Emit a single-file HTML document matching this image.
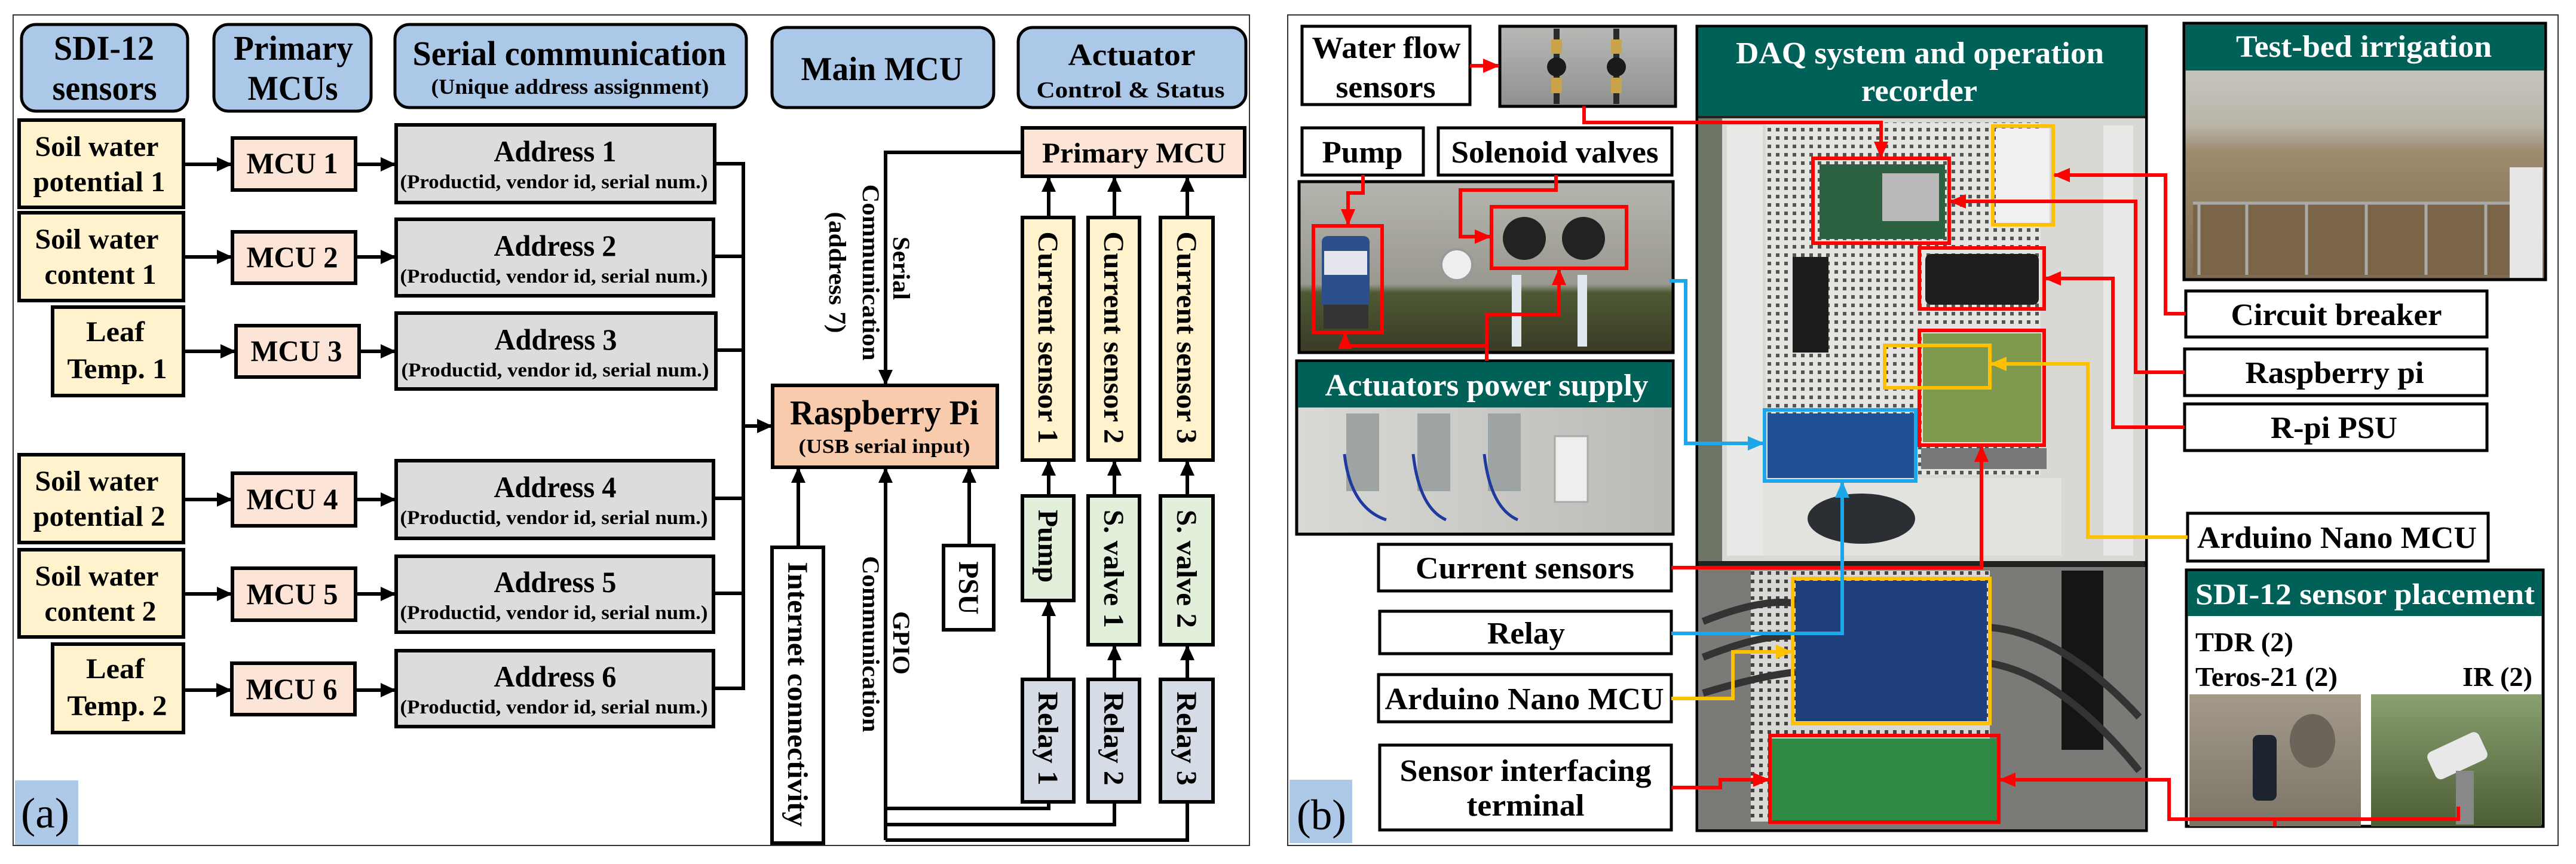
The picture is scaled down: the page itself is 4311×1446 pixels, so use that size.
<!DOCTYPE html>
<html><head><meta charset="utf-8"><style>
html,body{margin:0;padding:0;background:#fff;}
svg{display:block;}
text{font-family:"Liberation Serif",serif;font-weight:bold;}
</style></head><body>
<svg width="4311" height="1446" viewBox="0 0 4311 1446" xmlns="http://www.w3.org/2000/svg">
<defs>
<marker id="ak" markerWidth="28" markerHeight="28" refX="24" refY="14" orient="auto" markerUnits="userSpaceOnUse"><path d="M0,2 L26,14 L0,26 z" fill="#000"/></marker>
<marker id="ar" markerWidth="30" markerHeight="30" refX="26" refY="15" orient="auto" markerUnits="userSpaceOnUse"><path d="M0,3 L28,15 L0,27 z" fill="#f00"/></marker>
<marker id="ab" markerWidth="30" markerHeight="30" refX="26" refY="15" orient="auto" markerUnits="userSpaceOnUse"><path d="M0,3 L28,15 L0,27 z" fill="#1ea7e8"/></marker>
<marker id="ay" markerWidth="30" markerHeight="30" refX="26" refY="15" orient="auto" markerUnits="userSpaceOnUse"><path d="M0,3 L28,15 L0,27 z" fill="#ffc000"/></marker>
<pattern id="perf" width="14" height="14" patternUnits="userSpaceOnUse"><rect width="14" height="14" fill="#e4e4e0"/><rect x="4" y="4" width="6" height="6" fill="#555"/></pattern>
<pattern id="perf2" width="14" height="14" patternUnits="userSpaceOnUse"><rect width="14" height="14" fill="#d8d8d4"/><rect x="4" y="4" width="6" height="6" fill="#444"/></pattern>
<linearGradient id="gflow" x1="0" y1="0" x2="0" y2="1"><stop offset="0" stop-color="#b7b9b6"/><stop offset="1" stop-color="#8e918e"/></linearGradient>
<linearGradient id="gpump" x1="0" y1="0" x2="0" y2="1"><stop offset="0" stop-color="#b5b4ae"/><stop offset="0.6" stop-color="#9a9990"/><stop offset="0.65" stop-color="#4d5a33"/><stop offset="1" stop-color="#3b3a26"/></linearGradient>
<linearGradient id="gps" x1="0" y1="0" x2="1" y2="0"><stop offset="0" stop-color="#d9d9d6"/><stop offset="1" stop-color="#b9b9b6"/></linearGradient>
<linearGradient id="gtb" x1="0" y1="0" x2="0" y2="1"><stop offset="0" stop-color="#cfd2d2"/><stop offset="0.4" stop-color="#b9b4a8"/><stop offset="0.5" stop-color="#9e8b6e"/><stop offset="1" stop-color="#7d6a52"/></linearGradient>
<linearGradient id="gsl" x1="0" y1="0" x2="0" y2="1"><stop offset="0" stop-color="#a39a8a"/><stop offset="1" stop-color="#7c7466"/></linearGradient>
<linearGradient id="gsr" x1="0" y1="0" x2="0" y2="1"><stop offset="0" stop-color="#8aa070"/><stop offset="1" stop-color="#4c5e35"/></linearGradient>
</defs>

<!-- ============ PANEL A ============ -->
<rect x="22" y="25" width="2069" height="1390" fill="#fff" stroke="#333" stroke-width="2"/>
<rect x="25" y="1306" width="106" height="108" fill="#aec8e8"/>
<text x="35" y="1385" font-weight="normal" style="font-weight:normal" font-size="72" textLength="81" lengthAdjust="spacingAndGlyphs">(a)</text>

<!-- headers -->
<g fill="#abc8e8" stroke="#000" stroke-width="5">
<rect x="36" y="41" width="278" height="145" rx="24"/>
<rect x="358" y="41" width="263" height="145" rx="24"/>
<rect x="661" y="41" width="588" height="139" rx="24"/>
<rect x="1292" y="46" width="371" height="134" rx="24"/>
<rect x="1704" y="46" width="381" height="134" rx="24"/>
</g>
<g font-size="58" text-anchor="middle">
<text x="174" y="100" textLength="168" lengthAdjust="spacingAndGlyphs">SDI-12</text>
<text x="175" y="167" textLength="175" lengthAdjust="spacingAndGlyphs">sensors</text>
<text x="491" y="100" textLength="200" lengthAdjust="spacingAndGlyphs">Primary</text>
<text x="490" y="167" textLength="151" lengthAdjust="spacingAndGlyphs">MCUs</text>
<text x="953" y="109" textLength="525" lengthAdjust="spacingAndGlyphs">Serial communication</text>
<text x="1476" y="134" font-size="56" textLength="271" lengthAdjust="spacingAndGlyphs">Main MCU</text>
<text x="1894" y="109" font-size="52" textLength="213" lengthAdjust="spacingAndGlyphs">Actuator</text>
</g>
<text x="954" y="157" font-size="36" text-anchor="middle" textLength="465" lengthAdjust="spacingAndGlyphs">(Unique address assignment)</text>
<text x="1892" y="163" font-size="38" text-anchor="middle" textLength="315" lengthAdjust="spacingAndGlyphs">Control &amp; Status</text>

<!-- sensor boxes -->
<g fill="#fff2cc" stroke="#000" stroke-width="6">
<rect x="32" y="201" width="275" height="146"/>
<rect x="32" y="356" width="275" height="147"/>
<rect x="88" y="514" width="219" height="148"/>
<rect x="32" y="761" width="275" height="147"/>
<rect x="32" y="920" width="275" height="146"/>
<rect x="88" y="1078" width="219" height="148"/>
</g>
<g font-size="48" text-anchor="middle">
<text x="162" y="261" textLength="207" lengthAdjust="spacingAndGlyphs">Soil water</text>
<text x="166" y="320" textLength="221" lengthAdjust="spacingAndGlyphs">potential 1</text>
<text x="162" y="416" textLength="207" lengthAdjust="spacingAndGlyphs">Soil water</text>
<text x="168" y="475" textLength="187" lengthAdjust="spacingAndGlyphs">content 1</text>
<text x="193" y="571" textLength="98" lengthAdjust="spacingAndGlyphs">Leaf</text>
<text x="196" y="633" textLength="167" lengthAdjust="spacingAndGlyphs">Temp. 1</text>
<text x="162" y="821" textLength="207" lengthAdjust="spacingAndGlyphs">Soil water</text>
<text x="166" y="880" textLength="221" lengthAdjust="spacingAndGlyphs">potential 2</text>
<text x="162" y="980" textLength="207" lengthAdjust="spacingAndGlyphs">Soil water</text>
<text x="168" y="1039" textLength="187" lengthAdjust="spacingAndGlyphs">content 2</text>
<text x="193" y="1135" textLength="98" lengthAdjust="spacingAndGlyphs">Leaf</text>
<text x="196" y="1197" textLength="167" lengthAdjust="spacingAndGlyphs">Temp. 2</text>
</g>

<!-- MCU boxes -->
<g fill="#fce4d6" stroke="#000" stroke-width="6">
<rect x="389" y="231" width="206" height="87"/>
<rect x="389" y="388" width="206" height="86"/>
<rect x="395" y="545" width="206" height="86"/>
<rect x="389" y="792" width="206" height="88"/>
<rect x="389" y="951" width="206" height="87"/>
<rect x="388" y="1110" width="206" height="86"/>
</g>
<g font-size="50" text-anchor="middle">
<text x="489" y="290" textLength="153" lengthAdjust="spacingAndGlyphs">MCU 1</text>
<text x="489" y="447" textLength="153" lengthAdjust="spacingAndGlyphs">MCU 2</text>
<text x="496" y="604" textLength="153" lengthAdjust="spacingAndGlyphs">MCU 3</text>
<text x="489" y="852" textLength="153" lengthAdjust="spacingAndGlyphs">MCU 4</text>
<text x="489" y="1011" textLength="153" lengthAdjust="spacingAndGlyphs">MCU 5</text>
<text x="488" y="1170" textLength="153" lengthAdjust="spacingAndGlyphs">MCU 6</text>
</g>

<!-- Address boxes -->
<g fill="#dcdcdc" stroke="#000" stroke-width="6">
<rect x="663" y="209" width="533" height="130"/>
<rect x="663" y="367" width="531" height="128"/>
<rect x="663" y="524" width="535" height="127"/>
<rect x="663" y="771" width="531" height="130"/>
<rect x="663" y="931" width="531" height="127"/>
<rect x="663" y="1089" width="531" height="127"/>
</g>
<g text-anchor="middle">
<g font-size="50">
<text x="929" y="270" textLength="205" lengthAdjust="spacingAndGlyphs">Address 1</text>
<text x="929" y="428" textLength="205" lengthAdjust="spacingAndGlyphs">Address 2</text>
<text x="930" y="585" textLength="205" lengthAdjust="spacingAndGlyphs">Address 3</text>
<text x="929" y="832" textLength="205" lengthAdjust="spacingAndGlyphs">Address 4</text>
<text x="929" y="991" textLength="205" lengthAdjust="spacingAndGlyphs">Address 5</text>
<text x="929" y="1149" textLength="205" lengthAdjust="spacingAndGlyphs">Address 6</text>
</g>
<g font-size="33">
<text x="927" y="315" textLength="515" lengthAdjust="spacingAndGlyphs">(Productid, vendor id, serial num.)</text>
<text x="927" y="473" textLength="515" lengthAdjust="spacingAndGlyphs">(Productid, vendor id, serial num.)</text>
<text x="929" y="630" textLength="515" lengthAdjust="spacingAndGlyphs">(Productid, vendor id, serial num.)</text>
<text x="927" y="877" textLength="515" lengthAdjust="spacingAndGlyphs">(Productid, vendor id, serial num.)</text>
<text x="927" y="1036" textLength="515" lengthAdjust="spacingAndGlyphs">(Productid, vendor id, serial num.)</text>
<text x="927" y="1194" textLength="515" lengthAdjust="spacingAndGlyphs">(Productid, vendor id, serial num.)</text>
</g>
</g>

<!-- left arrows -->
<g stroke="#000" stroke-width="6" fill="none" marker-end="url(#ak)">
<line x1="307" y1="275" x2="387" y2="275"/>
<line x1="307" y1="430" x2="387" y2="430"/>
<line x1="307" y1="588" x2="393" y2="588"/>
<line x1="307" y1="836" x2="387" y2="836"/>
<line x1="307" y1="994" x2="387" y2="994"/>
<line x1="307" y1="1155" x2="386" y2="1155"/>
<line x1="595" y1="275" x2="661" y2="275"/>
<line x1="595" y1="430" x2="661" y2="430"/>
<line x1="601" y1="588" x2="661" y2="588"/>
<line x1="595" y1="836" x2="661" y2="836"/>
<line x1="595" y1="994" x2="661" y2="994"/>
<line x1="594" y1="1155" x2="661" y2="1155"/>
</g>
<g stroke="#000" stroke-width="6" fill="none">
<path d="M1196,274 H1244 M1194,429 H1244 M1198,586 H1244 M1194,834 H1244 M1194,993 H1244 M1194,1152 H1244 M1244,271 V1155"/>
<line x1="1244" y1="713" x2="1291" y2="713" marker-end="url(#ak)"/>
</g>

<!-- Raspberry Pi -->
<rect x="1293" y="645" width="376" height="137" fill="#f8cbad" stroke="#000" stroke-width="6"/>
<text x="1480" y="710" font-size="58" text-anchor="middle" textLength="316" lengthAdjust="spacingAndGlyphs">Raspberry Pi</text>
<text x="1480" y="758" font-size="34" text-anchor="middle" textLength="287" lengthAdjust="spacingAndGlyphs">(USB serial input)</text>

<!-- Primary MCU -->
<rect x="1711" y="214" width="372" height="81" fill="#fce4d6" stroke="#000" stroke-width="6"/>
<text x="1898" y="272" font-size="48" text-anchor="middle" textLength="308" lengthAdjust="spacingAndGlyphs">Primary MCU</text>

<!-- current sensors, pumps, relays -->
<g stroke="#000" stroke-width="6">
<g fill="#fff2cc">
<rect x="1711" y="364" width="86" height="406"/>
<rect x="1821" y="364" width="86" height="406"/>
<rect x="1942" y="364" width="88" height="406"/>
</g>
<g fill="#e2efda">
<rect x="1711" y="830" width="86" height="175"/>
<rect x="1821" y="830" width="86" height="249"/>
<rect x="1942" y="830" width="88" height="249"/>
</g>
<g fill="#d6dce5">
<rect x="1711" y="1137" width="86" height="205"/>
<rect x="1821" y="1137" width="86" height="205"/>
<rect x="1942" y="1137" width="88" height="205"/>
</g>
<rect x="1292" y="916" width="86" height="495" fill="#fff"/>
<rect x="1579" y="913" width="84" height="141" fill="#fff"/>
</g>
<g font-size="48" text-anchor="middle">
<text transform="translate(1754,565) rotate(90)" dy="16" textLength="355" lengthAdjust="spacingAndGlyphs">Current sensor 1</text>
<text transform="translate(1864,565) rotate(90)" dy="16" textLength="355" lengthAdjust="spacingAndGlyphs">Current sensor 2</text>
<text transform="translate(1986,565) rotate(90)" dy="16" textLength="355" lengthAdjust="spacingAndGlyphs">Current sensor 3</text>
<text transform="translate(1754,914) rotate(90)" dy="16" textLength="122" lengthAdjust="spacingAndGlyphs">Pump</text>
<text transform="translate(1864,952) rotate(90)" dy="16" textLength="198" lengthAdjust="spacingAndGlyphs">S. valve 1</text>
<text transform="translate(1986,952) rotate(90)" dy="16" textLength="198" lengthAdjust="spacingAndGlyphs">S. valve 2</text>
<text transform="translate(1754,1236) rotate(90)" dy="16" textLength="157" lengthAdjust="spacingAndGlyphs">Relay 1</text>
<text transform="translate(1864,1236) rotate(90)" dy="16" textLength="157" lengthAdjust="spacingAndGlyphs">Relay 2</text>
<text transform="translate(1986,1236) rotate(90)" dy="16" textLength="157" lengthAdjust="spacingAndGlyphs">Relay 3</text>
<text transform="translate(1335,1162) rotate(90)" dy="16" textLength="443" lengthAdjust="spacingAndGlyphs">Internet connectivity</text>
<text transform="translate(1621,984) rotate(90)" dy="16" textLength="89" lengthAdjust="spacingAndGlyphs">PSU</text>
</g>
<g font-size="40" text-anchor="middle">
<text transform="translate(1509,449) rotate(90)" dy="14" textLength="106" lengthAdjust="spacingAndGlyphs">Serial</text>
<text transform="translate(1458,456) rotate(90)" dy="14" textLength="295" lengthAdjust="spacingAndGlyphs">Communication</text>
<text transform="translate(1402,456) rotate(90)" dy="14" textLength="203" lengthAdjust="spacingAndGlyphs">(address 7)</text>
<text transform="translate(1509,1076) rotate(90)" dy="14" textLength="106" lengthAdjust="spacingAndGlyphs">GPIO</text>
<text transform="translate(1458,1078) rotate(90)" dy="14" textLength="295" lengthAdjust="spacingAndGlyphs">Communication</text>
</g>

<!-- actuator connectors -->
<g stroke="#000" stroke-width="6" fill="none">
<g marker-end="url(#ak)">
<line x1="1755" y1="364" x2="1755" y2="297"/>
<line x1="1865" y1="364" x2="1865" y2="297"/>
<line x1="1987" y1="364" x2="1987" y2="297"/>
<line x1="1755" y1="830" x2="1755" y2="772"/>
<line x1="1865" y1="830" x2="1865" y2="772"/>
<line x1="1987" y1="830" x2="1987" y2="772"/>
<line x1="1755" y1="1137" x2="1755" y2="1007"/>
<line x1="1865" y1="1137" x2="1865" y2="1081"/>
<line x1="1987" y1="1137" x2="1987" y2="1081"/>
<line x1="1336" y1="916" x2="1336" y2="784"/>
<line x1="1622" y1="913" x2="1622" y2="784"/>
<line x1="1482" y1="1406" x2="1482" y2="784"/>
<polyline points="1711,255 1482,255 1482,643"/>
</g>
<polyline points="1755,1342 1755,1353 1482,1353"/>
<polyline points="1865,1342 1865,1380 1482,1380"/>
<polyline points="1987,1342 1987,1406 1482,1406"/>
</g>

<!-- ============ PANEL B ============ -->
<rect x="2155" y="25" width="2126" height="1390" fill="#fff" stroke="#333" stroke-width="2"/>
<rect x="2158" y="1305" width="105" height="106" fill="#aec8e8"/>
<text x="2170" y="1388" style="font-weight:normal" font-size="72" textLength="83" lengthAdjust="spacingAndGlyphs">(b)</text>

<!-- label boxes -->
<g fill="#fff" stroke="#000" stroke-width="5">
<rect x="2179" y="44" width="281" height="131"/>
<rect x="2179" y="214" width="203" height="79"/>
<rect x="2407" y="214" width="391" height="79"/>
<rect x="2307" y="911" width="490" height="78"/>
<rect x="2309" y="1023" width="488" height="71"/>
<rect x="2307" y="1129" width="490" height="79"/>
<rect x="2309" y="1247" width="488" height="142"/>
<rect x="3658" y="487" width="504" height="77"/>
<rect x="3656" y="584" width="506" height="78"/>
<rect x="3656" y="676" width="506" height="78"/>
<rect x="3661" y="859" width="503" height="80"/>
</g>
<g font-size="52" text-anchor="middle">
<text x="2320" y="97" textLength="249" lengthAdjust="spacingAndGlyphs">Water flow</text>
<text x="2319" y="163" textLength="167" lengthAdjust="spacingAndGlyphs">sensors</text>
<text x="2280" y="272" textLength="135" lengthAdjust="spacingAndGlyphs">Pump</text>
<text x="2602" y="272" textLength="347" lengthAdjust="spacingAndGlyphs">Solenoid valves</text>
<text x="2552" y="968" textLength="366" lengthAdjust="spacingAndGlyphs">Current sensors</text>
<text x="2554" y="1077" textLength="130" lengthAdjust="spacingAndGlyphs">Relay</text>
<text x="2551" y="1187" textLength="467" lengthAdjust="spacingAndGlyphs">Arduino Nano MCU</text>
<text x="2553" y="1307" textLength="421" lengthAdjust="spacingAndGlyphs">Sensor interfacing</text>
<text x="2553" y="1365" textLength="197" lengthAdjust="spacingAndGlyphs">terminal</text>
<text x="3910" y="544" textLength="353" lengthAdjust="spacingAndGlyphs">Circuit breaker</text>
<text x="3907" y="641" textLength="299" lengthAdjust="spacingAndGlyphs">Raspberry pi</text>
<text x="3906" y="733" textLength="212" lengthAdjust="spacingAndGlyphs">R-pi PSU</text>
<text x="3911" y="917" textLength="468" lengthAdjust="spacingAndGlyphs">Arduino Nano MCU</text>
</g>

<!-- flow photo -->
<rect x="2510" y="44" width="294" height="134" fill="url(#gflow)" stroke="#000" stroke-width="5"/>
<g fill="#2a2a2a"><rect x="2600" y="48" width="10" height="126"/><rect x="2700" y="48" width="10" height="126"/></g>
<g fill="#c9a24a"><rect x="2596" y="66" width="18" height="24"/><rect x="2696" y="66" width="18" height="24"/><rect x="2596" y="130" width="18" height="26"/><rect x="2696" y="130" width="18" height="26"/></g>
<g fill="#1a1a1a"><circle cx="2605" cy="112" r="16"/><circle cx="2705" cy="112" r="16"/></g>

<!-- pump photo -->
<rect x="2174" y="304" width="626" height="286" fill="url(#gpump)" stroke="#000" stroke-width="5"/>
<rect x="2212" y="395" width="80" height="120" rx="10" fill="#2c4f8c"/>
<rect x="2216" y="420" width="72" height="40" fill="#e6e6ee"/>
<rect x="2215" y="510" width="75" height="40" fill="#333"/>
<circle cx="2438" cy="443" r="26" fill="#eee" stroke="#999" stroke-width="4"/>
<g fill="#222"><circle cx="2551" cy="399" r="36"/><circle cx="2650" cy="399" r="36"/></g>
<g fill="#dfe7ef"><rect x="2530" y="460" width="16" height="120"/><rect x="2640" y="460" width="16" height="120"/></g>

<!-- actuators power supply -->
<rect x="2170" y="604" width="630" height="290" fill="url(#gps)" stroke="#000" stroke-width="5"/>
<rect x="2172" y="606" width="626" height="76" fill="#006158"/>
<text x="2488" y="662" font-size="52" fill="#fff" text-anchor="middle" textLength="541" lengthAdjust="spacingAndGlyphs">Actuators power supply</text>
<g fill="#9ea3a3"><rect x="2253" y="692" width="55" height="130"/><rect x="2372" y="692" width="55" height="130"/><rect x="2490" y="692" width="55" height="130"/></g>
<rect x="2602" y="730" width="55" height="110" fill="#eee" stroke="#aaa" stroke-width="3"/>
<g stroke="#1f3a9e" stroke-width="5" fill="none"><path d="M2250,760 Q2260,850 2320,870 M2365,760 Q2375,850 2420,870 M2484,760 Q2494,850 2540,870"/></g>

<!-- DAQ -->
<rect x="2840" y="44" width="752" height="1346" fill="#222" stroke="#000" stroke-width="5"/>
<rect x="2842" y="46" width="748" height="148" fill="#006158"/>
<text x="3213" y="106" font-size="52" fill="#fff" text-anchor="middle" textLength="616" lengthAdjust="spacingAndGlyphs">DAQ system and operation</text>
<text x="3212" y="169" font-size="52" fill="#fff" text-anchor="middle" textLength="194" lengthAdjust="spacingAndGlyphs">recorder</text>
<rect x="2842" y="198" width="748" height="741" fill="#d8d8d4"/>
<rect x="2842" y="198" width="40" height="741" fill="#6d7566"/>
<rect x="2890" y="210" width="60" height="720" fill="#e8e8e6"/>
<rect x="3520" y="210" width="50" height="720" fill="#e8e8e6"/>
<rect x="2955" y="205" width="460" height="590" fill="url(#perf)"/>
<rect x="2950" y="800" width="500" height="130" fill="#e2e2de"/>
<ellipse cx="3115" cy="868" rx="90" ry="42" fill="#2b2e33"/>
<rect x="3045" y="275" width="210" height="125" fill="#2b6040"/>
<rect x="3150" y="290" width="95" height="80" fill="#b9b9b9"/>
<rect x="3000" y="430" width="60" height="160" fill="#1c1c1c"/>
<rect x="3222" y="425" width="190" height="85" rx="10" fill="#1e1e1e"/>
<rect x="3218" y="558" width="198" height="182" fill="#7f9a4f"/>
<rect x="2958" y="692" width="245" height="108" fill="#1f4f94"/>
<rect x="3340" y="215" width="90" height="158" fill="#f0f0f0"/>
<rect x="3215" y="750" width="210" height="35" fill="#777"/>
<rect x="2842" y="949" width="748" height="439" fill="#7a7a76"/>
<rect x="2930" y="955" width="400" height="420" fill="url(#perf2)"/>
<rect x="3005" y="972" width="320" height="235" fill="#1e3f7a"/>
<rect x="2965" y="1236" width="378" height="140" fill="#2f8a43"/>
<rect x="3450" y="955" width="70" height="300" fill="#151515"/>
<g stroke="#333" stroke-width="12" fill="none"><path d="M2850,1040 Q2950,1000 3005,1010 M2850,1100 Q2950,1060 3005,1065 M2850,1160 Q2950,1130 3005,1125 M3330,1050 Q3450,1060 3580,1200 M3330,1110 Q3450,1130 3580,1290"/></g>

<!-- DAQ highlight boxes -->
<g fill="none" stroke-width="6">
<rect x="3034" y="265" width="228" height="142" stroke="#f00"/>
<rect x="3335" y="211" width="101" height="165" stroke="#ffc000"/>
<rect x="3212" y="415" width="209" height="102" stroke="#f00"/>
<rect x="3212" y="553" width="209" height="192" stroke="#f00"/>
<rect x="3154" y="578" width="176" height="71" stroke="#ffc000"/>
<rect x="2953" y="686" width="253" height="119" stroke="#1ea7e8"/>
<rect x="3000" y="968" width="330" height="243" stroke="#ffc000"/>
<rect x="2962" y="1231" width="383" height="145" stroke="#f00"/>
<rect x="2198" y="378" width="115" height="178" stroke="#f00"/>
<rect x="2496" y="346" width="226" height="103" stroke="#f00"/>
</g>

<!-- Test-bed irrigation -->
<rect x="3655" y="39" width="605" height="429" fill="url(#gtb)" stroke="#000" stroke-width="5"/>
<rect x="3657" y="41" width="601" height="77" fill="#006158"/>
<text x="3956" y="95" font-size="52" fill="#fff" text-anchor="middle" textLength="428" lengthAdjust="spacingAndGlyphs">Test-bed irrigation</text>
<rect x="3670" y="340" width="580" height="120" fill="#7a6548"/>
<g stroke="#aaa" stroke-width="5" fill="none"><path d="M3670,340 H4250 M3680,340 V460 M3760,340 V460 M3860,340 V460 M3960,340 V460 M4060,340 V460 M4160,340 V460"/></g>
<rect x="4200" y="280" width="55" height="185" fill="#e6e6e6"/>

<!-- SDI-12 sensor placement -->
<rect x="3659" y="954" width="597" height="429" fill="#fff" stroke="#000" stroke-width="5"/>
<rect x="3661" y="956" width="593" height="75" fill="#006158"/>
<text x="3958" y="1011" font-size="50" fill="#fff" text-anchor="middle" textLength="568" lengthAdjust="spacingAndGlyphs">SDI-12 sensor placement</text>
<g font-size="46">
<text x="3674" y="1090" textLength="164" lengthAdjust="spacingAndGlyphs">TDR (2)</text>
<text x="3674" y="1148" textLength="238" lengthAdjust="spacingAndGlyphs">Teros-21 (2)</text>
<text x="4121" y="1148" textLength="117" lengthAdjust="spacingAndGlyphs">IR (2)</text>
</g>
<rect x="3664" y="1162" width="287" height="221" fill="url(#gsl)"/>
<rect x="3968" y="1162" width="285" height="221" fill="url(#gsr)"/>
<rect x="3770" y="1230" width="40" height="110" rx="10" fill="#1d2430"/>
<ellipse cx="3870" cy="1240" rx="38" ry="45" fill="#6a645a"/>
<rect x="4065" y="1240" width="95" height="50" rx="10" fill="#e8e8e8" transform="rotate(-25 4112 1265)"/>
<rect x="4110" y="1290" width="30" height="90" fill="#888"/>

<!-- right panel connectors -->
<g stroke="#f00" stroke-width="6" fill="none" marker-end="url(#ar)">
<line x1="2460" y1="110" x2="2508" y2="110"/>
<polyline points="2651,178 2651,205 3148,205 3148,263"/>
<polyline points="3658,525 3624,525 3624,293 3438,293"/>
<polyline points="3656,623 3574,623 3574,337 3264,337"/>
<polyline points="3656,715 3536,715 3536,466 3423,466"/>
<polyline points="2797,950 3316,950 3316,747"/>
<polyline points="2797,1318 2879,1318 2879,1305 2960,1305"/>
<polyline points="4114,1350 4114,1371 3630,1371 3630,1305 3347,1305"/>
<polyline points="2281,293 2281,323 2256,323 2256,376"/>
<polyline points="2604,293 2604,318 2444,318 2444,396 2494,396"/>
<polyline points="2488,604 2488,526 2609,526 2609,451"/>
<polyline points="2488,579 2251,579 2251,558"/>
</g>
<line x1="3807" y1="1371" x2="3807" y2="1383" stroke="#f00" stroke-width="6"/>
<g stroke="#1ea7e8" stroke-width="6" fill="none" marker-end="url(#ab)">
<polyline points="2797,1060 3083,1060 3083,807"/>
<polyline points="2794,470 2821,470 2821,742 2951,742"/>
</g>
<g stroke="#ffc000" stroke-width="6" fill="none" marker-end="url(#ay)">
<polyline points="3661,899 3494,899 3494,609 3332,609"/>
<polyline points="2797,1169 2900,1169 2900,1091 2998,1091"/>
</g>
</svg>
</body></html>
